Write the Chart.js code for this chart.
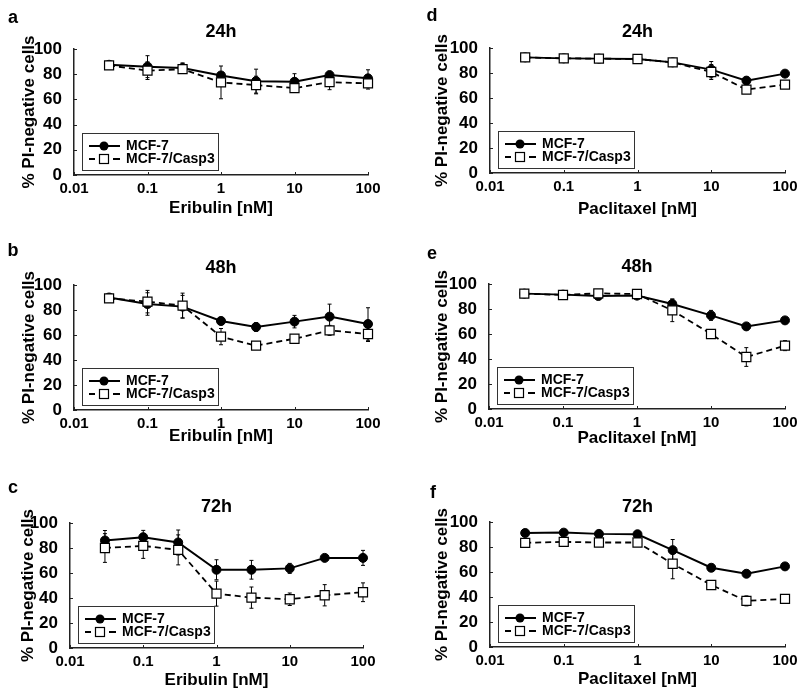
<!DOCTYPE html>
<html>
<head>
<meta charset="utf-8">
<title>PI-negative cells</title>
<script src="https://cdn.jsdelivr.net/npm/chart.js@4/dist/chart.umd.min.js"></script>
<style>
    body { margin: 0; background: #fff; width: 800px; height: 689px; position: relative; overflow: hidden; }
    .panel { position: absolute; }
</style>
</head>
<body>
<div class="panel" style="left:0;top:0"><canvas id="chart-a" width="400" height="225"></canvas></div>
<div class="panel" style="left:0;top:225px"><canvas id="chart-b" width="400" height="230"></canvas></div>
<div class="panel" style="left:0;top:455px"><canvas id="chart-c" width="400" height="234"></canvas></div>
<div class="panel" style="left:400px;top:0"><canvas id="chart-d" width="400" height="225"></canvas></div>
<div class="panel" style="left:400px;top:225px"><canvas id="chart-e" width="400" height="230"></canvas></div>
<div class="panel" style="left:400px;top:455px"><canvas id="chart-f" width="400" height="234"></canvas></div>
<script>
const FONT = "'Liberation Sans', Arial, Helvetica, sans-serif";

// doses in nM (x), shared by all panels
const doses = [0.03, 0.1, 0.3, 1, 3, 10, 30, 100];
const xTickValues = [0.01, 0.1, 1, 10, 100];
const yMin = 0;
const yMax = 100;
const yLabelStep = 20;
const yMinorStep = 10;
const seriesNames = ['MCF-7', 'MCF-7/Casp3'];

// a - Eribulin 24h
const eri24Mcf7 = [87.5, 86, 85, 79, 74.5, 74, 79.3, 76.7];
const eri24Mcf7Err = [3, 8.7, 4, 2, 9.5, 6.4, 1.5, 6.8];
const eri24Casp3 = [87, 82.8, 84, 73.5, 71.4, 69, 73.7, 72.7];
const eri24Casp3Err = [2.5, 7, 3, 13, 7, 1.5, 6, 4.5];

// b - Eribulin 48h
const eri48Mcf7 = [90, 84.8, 82.7, 71.2, 66.4, 70.7, 74.7, 68.8];
const eri48Mcf7Err = [3, 9, 9, 3, 3.5, 5, 10, 13];
const eri48Casp3 = [89.3, 86.7, 83.5, 58.7, 51.5, 57, 63.7, 60.8];
const eri48Casp3Err = [3, 9, 10, 6.5, 3, 2, 4, 6];

// c - Eribulin 72h
const eri72Mcf7 = [86, 88.6, 84.4, 62.6, 62.6, 63.7, 72.1, 72.1];
const eri72Mcf7Err = [8, 5.5, 10, 8, 7.5, 4, 1.5, 6];
const eri72Casp3 = [80, 81.7, 78.5, 43.5, 40.3, 39, 42.2, 44.6];
const eri72Casp3Err = [11.5, 10, 12, 10, 8.5, 5, 8.5, 7.5];

// d - Paclitaxel 24h
const pac24Mcf7 = [92.5, 91.7, 91.5, 91.2, 88.5, 82.7, 73.9, 79.5];
const pac24Mcf7Err = [1, 1, 1, 1, 1, 6.5, 3, 2];
const pac24Casp3 = [92.5, 91.7, 91.5, 91.2, 88.5, 80.8, 66.7, 70.7];
const pac24Casp3Err = [1, 1, 1, 1, 1, 6, 2, 2];

// e - Paclitaxel 48h
const pac48Mcf7 = [92.3, 91.5, 90.4, 90.7, 84, 74.9, 66.1, 70.9];
const pac48Mcf7Err = [1, 1, 1.5, 2, 4, 4, 1.5, 2];
const pac48Casp3 = [92.3, 91.2, 92.5, 92, 78.9, 60, 41.6, 50.7];
const pac48Casp3Err = [1, 1, 1, 2, 9, 1.5, 7.5, 4];

// f - Paclitaxel 72h
const pac72Mcf7 = [91.2, 91.5, 90.5, 90.2, 77.5, 63.4, 58.6, 64.5];
const pac72Mcf7Err = [1, 1, 1, 1, 8.5, 1.5, 1.5, 2.5];
const pac72Casp3 = [83.3, 84.1, 83.6, 83.6, 66.6, 49.6, 36.9, 38.5];
const pac72Casp3Err = [1, 1, 1, 1, 12, 3, 4, 1.5];

const panels = [
    { id: 'chart-a', letter: 'a', title: '24h', drug: 'Eribulin [nM]',
      mcf7: eri24Mcf7, mcf7Err: eri24Mcf7Err, casp3: eri24Casp3, casp3Err: eri24Casp3Err,
      area: { left: 74, right: 368, top: 49, bottom: 175 }, letterPos: [13, 18], titleY: 32, xTitleY: 208, yTitleX: 29 },
    { id: 'chart-b', letter: 'b', title: '48h', drug: 'Eribulin [nM]',
      mcf7: eri48Mcf7, mcf7Err: eri48Mcf7Err, casp3: eri48Casp3, casp3Err: eri48Casp3Err,
      area: { left: 74, right: 368, top: 60, bottom: 185 }, letterPos: [13, 26], titleY: 43, xTitleY: 211, yTitleX: 29 },
    { id: 'chart-c', letter: 'c', title: '72h', drug: 'Eribulin [nM]',
      mcf7: eri72Mcf7, mcf7Err: eri72Mcf7Err, casp3: eri72Casp3, casp3Err: eri72Casp3Err,
      area: { left: 70, right: 363, top: 68, bottom: 193 }, letterPos: [13, 33], titleY: 52, xTitleY: 225, yTitleX: 28 },
    { id: 'chart-d', letter: 'd', title: '24h', drug: 'Paclitaxel [nM]',
      mcf7: pac24Mcf7, mcf7Err: pac24Mcf7Err, casp3: pac24Casp3, casp3Err: pac24Casp3Err,
      area: { left: 90, right: 385, top: 48, bottom: 173 }, letterPos: [32, 16], titleY: 32, xTitleY: 209, yTitleX: 42 },
    { id: 'chart-e', letter: 'e', title: '48h', drug: 'Paclitaxel [nM]',
      mcf7: pac48Mcf7, mcf7Err: pac48Mcf7Err, casp3: pac48Casp3, casp3Err: pac48Casp3Err,
      area: { left: 89, right: 385, top: 59, bottom: 184 }, letterPos: [32, 29], titleY: 42, xTitleY: 213, yTitleX: 42 },
    { id: 'chart-f', letter: 'f', title: '72h', drug: 'Paclitaxel [nM]',
      mcf7: pac72Mcf7, mcf7Err: pac72Mcf7Err, casp3: pac72Casp3, casp3Err: pac72Casp3Err,
      area: { left: 90, right: 385, top: 67, bottom: 192 }, letterPos: [33, 38], titleY: 52, xTitleY: 224, yTitleX: 42 }
];

// error bars under the markers
const errorBars = {
    id: 'errorBars',
    beforeDatasetsDraw(chart) {
        const ctx = chart.ctx;
        const y = chart.scales.y;
        ctx.save();
        ctx.strokeStyle = '#000';
        ctx.lineWidth = 1;
        chart.data.datasets.forEach((ds, di) => {
            const meta = chart.getDatasetMeta(di);
            meta.data.forEach((pt, i) => {
                const v = ds.data[i].y;
                const e = ds.errors[i];
                const yTop = y.getPixelForValue(v + e);
                const yBot = y.getPixelForValue(v - e);
                ctx.beginPath();
                ctx.moveTo(pt.x, yTop); ctx.lineTo(pt.x, yBot);
                ctx.moveTo(pt.x - 2, yTop); ctx.lineTo(pt.x + 2, yTop);
                ctx.moveTo(pt.x - 2, yBot); ctx.lineTo(pt.x + 2, yBot);
                ctx.stroke();
            });
        });
        ctx.restore();
    }
};

// panel letter, heading, inward ticks and the boxed legend
const panelDecor = {
    id: 'panelDecor',
    afterDraw(chart, args, opts) {
        const ctx = chart.ctx;
        const area = chart.chartArea;
        const xs = chart.scales.x;
        const ys = chart.scales.y;
        ctx.save();

        ctx.fillStyle = '#000';
        ctx.textAlign = 'center';
        ctx.textBaseline = 'middle';
        ctx.font = 'bold 18px ' + FONT;
        ctx.fillText(opts.letter, opts.letterPos[0], opts.letterPos[1]);
        ctx.fillText(opts.title, (area.left + area.right) / 2, opts.titleY);

        ctx.strokeStyle = '#222';
        ctx.lineWidth = 1;
        ctx.beginPath();
        ys.ticks.forEach(t => {
            const py = Math.round(ys.getPixelForValue(t.value)) + 0.5;
            ctx.moveTo(area.left, py); ctx.lineTo(area.left + 3, py);
        });
        xs.ticks.forEach(t => {
            const px = Math.round(xs.getPixelForValue(t.value)) + 0.5;
            ctx.moveTo(px, area.bottom); ctx.lineTo(px, area.bottom - 3);
        });
        ctx.stroke();

        // legend
        const bx = area.left + 8;
        const bw = 136;
        const bh = 37;
        const by = area.bottom - 5 - bh;
        ctx.fillStyle = '#fff';
        ctx.fillRect(bx, by, bw, bh);
        ctx.strokeStyle = '#333';
        ctx.strokeRect(bx + 0.5, by + 0.5, bw, bh);

        const rows = [by + 13, by + 26];
        const mx = bx + 22;
        ctx.strokeStyle = '#000';
        ctx.lineWidth = 2;
        ctx.beginPath();
        ctx.moveTo(bx + 7, rows[0]); ctx.lineTo(bx + 38, rows[0]);
        ctx.stroke();
        ctx.fillStyle = '#000';
        ctx.beginPath();
        ctx.arc(mx, rows[0], 4.5, 0, Math.PI * 2);
        ctx.fill();

        ctx.lineWidth = 1.8;
        ctx.beginPath();
        ctx.moveTo(bx + 7, rows[1]); ctx.lineTo(bx + 13, rows[1]);
        ctx.moveTo(bx + 31, rows[1]); ctx.lineTo(bx + 38, rows[1]);
        ctx.stroke();
        ctx.fillStyle = '#fff';
        ctx.lineWidth = 1.2;
        ctx.fillRect(mx - 4.5, rows[1] - 4.5, 9, 9);
        ctx.strokeRect(mx - 4.5, rows[1] - 4.5, 9, 9);

        ctx.fillStyle = '#000';
        ctx.textAlign = 'left';
        ctx.font = 'bold 14px ' + FONT;
        ctx.fillText(seriesNames[0], bx + 44, rows[0]);
        ctx.fillText(seriesNames[1], bx + 44, rows[1]);
        ctx.restore();
    }
};

function buildPanel(p) {
    const canvas = document.getElementById(p.id);
    const W = canvas.width;
    const H = canvas.height;
    const toPoints = vals => doses.map((d, i) => ({ x: d, y: vals[i] }));

    return new Chart(canvas, {
        type: 'line',
        data: {
            datasets: [
                {
                    label: seriesNames[0],
                    data: toPoints(p.mcf7),
                    errors: p.mcf7Err,
                    order: 1,
                    clip: false,
                    borderColor: '#000',
                    borderWidth: 2,
                    pointStyle: 'circle',
                    pointRadius: 4.5,
                    pointBackgroundColor: '#000',
                    pointBorderColor: '#000',
                    pointBorderWidth: 1
                },
                {
                    label: seriesNames[1],
                    data: toPoints(p.casp3),
                    errors: p.casp3Err,
                    order: 0,
                    clip: false,
                    borderColor: '#000',
                    borderWidth: 1.8,
                    borderDash: [6, 4],
                    pointStyle: 'rect',
                    pointRadius: 6.4,
                    pointBackgroundColor: '#fff',
                    pointBorderColor: '#000',
                    pointBorderWidth: 1.2
                }
            ]
        },
        options: {
            responsive: false,
            animation: false,
            layout: { padding: { left: 0, top: p.area.top, right: W - p.area.right, bottom: 0 } },
            plugins: {
                legend: { display: false },
                tooltip: { enabled: false },
                panelDecor: { letter: p.letter, letterPos: p.letterPos, title: p.title, titleY: p.titleY }
            },
            scales: {
                x: {
                    type: 'logarithmic',
                    min: xTickValues[0],
                    max: xTickValues[xTickValues.length - 1],
                    afterBuildTicks: s => { s.ticks = xTickValues.map(v => ({ value: v })); },
                    afterFit: s => { s.height = H - p.area.bottom; },
                    grid: { display: false },
                    border: { display: true, color: '#222', width: 1.5 },
                    ticks: {
                        autoSkip: false, maxRotation: 0, padding: -3, color: '#000',
                        font: { family: FONT, size: 15, weight: 'bold' },
                        callback: v => String(v)
                    },
                    title: {
                        display: true, text: p.drug, color: '#000',
                        font: { family: FONT, size: 17, weight: 'bold', lineHeight: 1 },
                        padding: { top: 0, bottom: H - p.xTitleY - 8.5 }
                    }
                },
                y: {
                    min: yMin,
                    max: yMax,
                    afterFit: s => { s.width = p.area.left; },
                    grid: { display: false },
                    border: { display: true, color: '#222', width: 1.5 },
                    ticks: {
                        stepSize: yMinorStep, padding: 4, color: '#000',
                        font: { family: FONT, size: 17, weight: 'bold' },
                        callback: v => (v % yLabelStep === 0 ? v : '')
                    },
                    title: {
                        display: true, text: '% PI-negative cells', color: '#000',
                        font: { family: FONT, size: 17, weight: 'bold', lineHeight: 1 },
                        padding: { top: p.yTitleX - 8.5, bottom: 0 }
                    }
                }
            }
        },
        plugins: [errorBars, panelDecor]
    });
}

panels.forEach(buildPanel);
</script>
</body>
</html>
